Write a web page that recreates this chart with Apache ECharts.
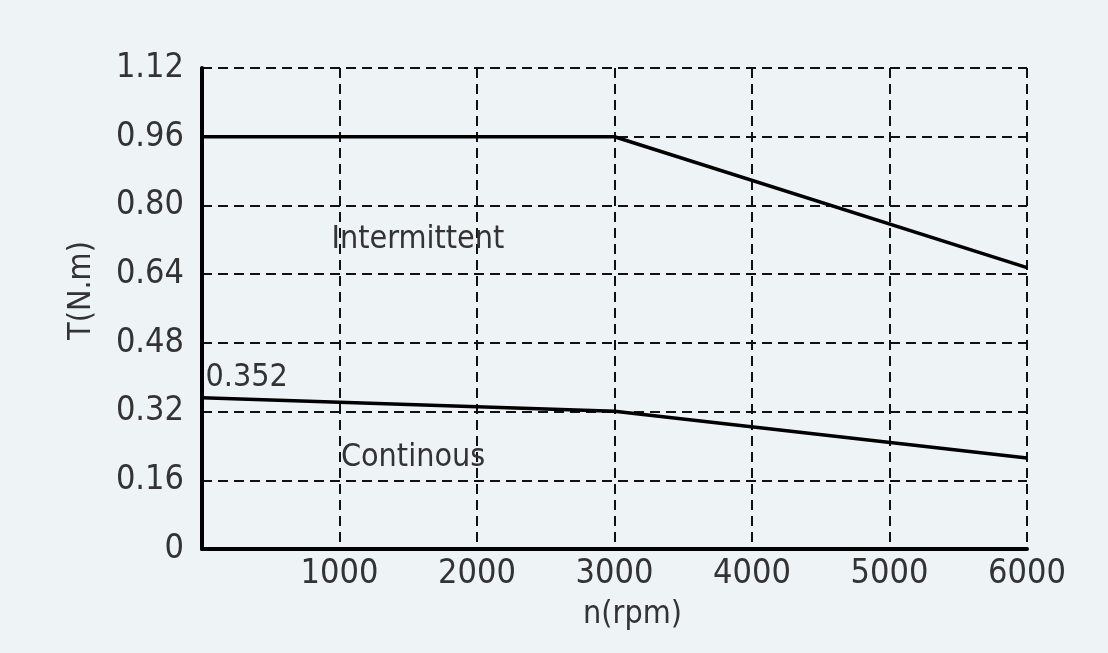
<!DOCTYPE html>
<html>
<head>
<meta charset="utf-8">
<style>
  html, body { margin: 0; padding: 0; background: #eef3f6; }
  #main { width: 1108px; height: 653px; }
</style>
<script src="https://cdn.jsdelivr.net/npm/echarts@6/dist/echarts.min.js"></script>
</head>
<body>
<div id="main"></div>
<script>
// ---------------- data ----------------
const speedRpm = [0, 3000, 6000];
const intermittentTorque = [0.96, 0.96, 0.655];
const continuousTorque = [0.352, 0.321, 0.212];
const yTicks = [0, 0.16, 0.32, 0.48, 0.64, 0.80, 0.96, 1.12];

const FONT = "'DejaVu Sans Condensed', 'Liberation Sans Narrow', sans-serif";
const TXT = "#333";

function pairs(xs, ys) {
  return xs.map((x, i) => [x, ys[i]]);
}

let chart = echarts.init(document.getElementById("main"));
let option = {
  backgroundColor: "#eef3f6",
  animation: false,
  grid: { left: 202, right: 81, top: 68, bottom: 104 },
  xAxis: {
    type: "value",
    min: 0,
    max: 6000,
    interval: 1000,
    name: "n(rpm)",
    nameLocation: "middle",
    nameGap: 50,
    nameTextStyle: { fontFamily: FONT, fontSize: 32, color: TXT, padding: [0, 0, 0, 36] },
    axisLine: { lineStyle: { color: "#000", width: 4 } },
    axisTick: { show: false },
    axisLabel: {
      fontFamily: FONT, fontSize: 34, color: TXT, margin: 8,
      formatter: (v) => (v === 0 ? "" : String(v)),
    },
    splitLine: { show: true, lineStyle: { color: "#111", width: 2, type: [10, 6] } },
  },
  yAxis: {
    type: "value",
    min: yTicks[0],
    max: yTicks[yTicks.length - 1],
    interval: 0.16,
    name: "T(N.m)",
    nameLocation: "middle",
    nameGap: 104,
    nameTextStyle: { fontFamily: FONT, fontSize: 32, color: TXT, padding: [0, 0, 0, 36] },
    axisLine: { show: true, lineStyle: { color: "#000", width: 4 } },
    axisTick: { show: false },
    axisLabel: {
      fontFamily: FONT, fontSize: 34, color: TXT, margin: 18,
      formatter: (v) => (v === 0 ? "0" : v.toFixed(2)),
    },
    splitLine: { show: true, lineStyle: { color: "#111", width: 2, type: [10, 6] } },
  },
  series: [
    {
      name: "Intermittent",
      type: "line",
      data: pairs(speedRpm, intermittentTorque),
      symbol: "none",
      lineStyle: { color: "#000", width: 3.5 },
      markPoint: {
        symbol: "circle",
        symbolSize: 1,
        itemStyle: { color: "rgba(0,0,0,0)" },
        label: { show: true, position: "inside", fontFamily: FONT, fontSize: 32, color: TXT, formatter: (p) => p.name },
        data: [{ name: "Intermittent", coord: [1570, 0.72] }],
      },
    },
    {
      name: "Continous",
      type: "line",
      data: pairs(speedRpm, continuousTorque),
      symbol: "none",
      lineStyle: { color: "#000", width: 3.5 },
      markPoint: {
        symbol: "circle",
        symbolSize: 1,
        itemStyle: { color: "rgba(0,0,0,0)" },
        label: { show: true, position: "inside", fontFamily: FONT, fontSize: 32, color: TXT, formatter: (p) => p.name },
        data: [
          { name: "Continous", coord: [1535, 0.212] },
          { name: "0.352", coord: [0, 0.40], label: { position: "right", offset: [-2, 0] } },
        ],
      },
    },
  ],
};
chart.setOption(option);

window.onresize = function () {
  chart.resize();
};
</script>
</body>
</html>
